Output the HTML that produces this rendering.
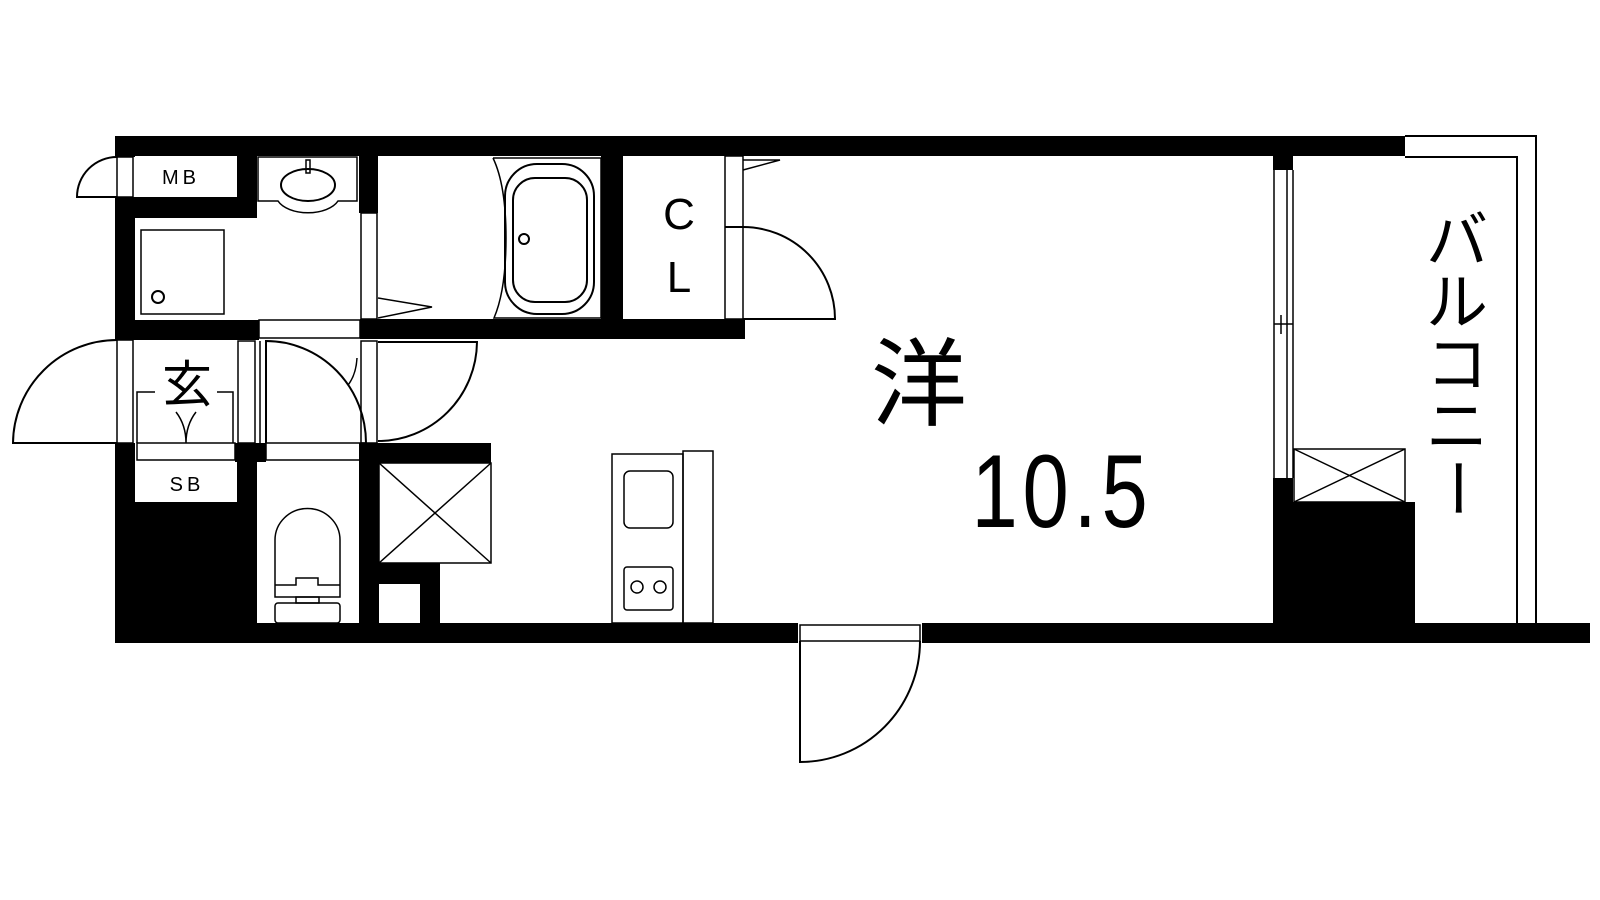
<!DOCTYPE html>
<html><head><meta charset="utf-8"><style>
html,body{margin:0;padding:0;background:#fff;}
svg{display:block;}
text{font-family:"Liberation Sans","Noto Sans CJK JP",sans-serif;}
</style></head><body>
<svg width="1600" height="900" viewBox="0 0 1600 900" xmlns="http://www.w3.org/2000/svg">
<g fill="#000" stroke="none">
<rect x="115" y="136" width="1290" height="20"/>
<rect x="115" y="136" width="20" height="21"/>
<rect x="115" y="197" width="20" height="143"/>
<rect x="115" y="443" width="20" height="200"/>
<rect x="115" y="623" width="683" height="20"/>
<rect x="922" y="623" width="668" height="20"/>
<rect x="115" y="197" width="142" height="21"/>
<rect x="237" y="156" width="20" height="62"/>
<rect x="359" y="156" width="19" height="57"/>
<rect x="115" y="320" width="144" height="20"/>
<rect x="360" y="319" width="385" height="20"/>
<rect x="601" y="156" width="22" height="183"/>
<rect x="1273" y="156" width="20" height="14"/>
<rect x="1273" y="478" width="20" height="50"/>
<rect x="1273" y="502" width="142" height="125"/>
<rect x="235" y="443" width="31" height="19"/>
<rect x="115" y="502" width="142" height="125"/>
<rect x="237" y="443" width="20" height="180"/>
<rect x="359" y="443" width="20" height="180"/>
<rect x="366" y="443" width="125" height="20"/>
<rect x="379" y="563" width="61" height="21"/>
<rect x="420" y="563" width="20" height="60"/>
</g>
<g fill="none" stroke="#000" stroke-width="2">
<rect x="117" y="157" width="16" height="40" stroke-width="1.5"/>
<path d="M117 197 L77 197 A40 40 0 0 1 117 157"/>
<path d="M258 157 L357 157 L357 201 L338 201 A32 18 0 0 1 278 201 L258 201 Z" stroke-width="1.5"/>
<ellipse cx="308" cy="185" rx="27" ry="16"/>
<rect x="306" y="160" width="4" height="13" stroke-width="1.5"/>
<rect x="141" y="230" width="83" height="84" stroke-width="1.5"/>
<circle cx="158" cy="297" r="6"/>
<rect x="361" y="213" width="16" height="106" stroke-width="1.5"/>
<path d="M378 298 L432 307 L378 318" stroke-width="1.5"/>
<path d="M493 158 L601 158 L601 318 L494 318 Q506 290 506 238 Q506 185 493 158" stroke-width="1.5"/>
<rect x="505" y="164" width="89" height="150" rx="32" stroke-width="2"/>
<rect x="513" y="178" width="74" height="124" rx="22" stroke-width="2"/>
<circle cx="524" cy="239" r="5"/>
<rect x="259" y="320" width="101" height="18" stroke-width="1.5"/>
<rect x="725" y="156" width="18" height="163" stroke-width="1.5"/>
<line x1="725" y1="227" x2="743" y2="227"/>
<path d="M743 160 L780 160 L743 170" stroke-width="1.5"/>
<path d="M743 227 A92 92 0 0 1 835 319 L743 319"/>
<rect x="117" y="340" width="16" height="103" stroke-width="1.5"/>
<path d="M117 443 L13 443 A104 104 0 0 1 117 340"/>
<rect x="137" y="443" width="98" height="17" stroke-width="1.5"/>
<path d="M137 443 L137 392 L155 392 M233 443 L233 392 L217 392" stroke-width="1.5"/>
<path d="M176 412 Q186 425 186 443 Q186 425 196 412" stroke-width="1.5"/>
<rect x="238" y="341" width="17" height="102" stroke-width="1.5"/>
<line x1="260" y1="341" x2="260" y2="443" stroke-width="1.5"/>
<path d="M266 443 L266 341 A100 102 0 0 1 366 443"/>
<rect x="266" y="443" width="100" height="17" stroke-width="1.5"/>
<rect x="361" y="341" width="16" height="102" stroke-width="1.5"/>
<path d="M378 342 L477 342 A99 100 0 0 1 378 441"/>
<path d="M357 358 Q356 375 348 385" stroke-width="1.5"/>
<path d="M275 597 L275 540 A32 31 0 0 1 340 540 L340 597 Z" stroke-width="1.5"/>
<path d="M275 585 L296 585 L296 578 L318 578 L318 585 L340 585" stroke-width="1.5"/>
<rect x="296" y="597" width="23" height="6" stroke-width="1.5"/>
<rect x="275" y="603" width="65" height="20" rx="3" stroke-width="1.5"/>
<rect x="379" y="463" width="112" height="100" stroke-width="1.5"/>
<path d="M379 463 L491 563 M491 463 L379 563" stroke-width="1.5"/>
<rect x="612" y="454" width="71" height="169" stroke-width="1.5"/>
<rect x="683" y="451" width="30" height="172" stroke-width="1.5"/>
<rect x="624" y="471" width="49" height="57" rx="6" stroke-width="1.5"/>
<rect x="624" y="567" width="49" height="43" rx="3" stroke-width="1.5"/>
<circle cx="637" cy="587" r="6" stroke-width="1.5"/>
<circle cx="660" cy="587" r="6" stroke-width="1.5"/>
<rect x="800" y="625" width="120" height="16" stroke-width="1.5"/>
<path d="M800 641 L800 762 A120 121 0 0 0 920 641"/>
<line x1="1274" y1="170" x2="1274" y2="478" stroke-width="1.5"/>
<line x1="1287" y1="170" x2="1287" y2="478" stroke-width="1.5"/>
<line x1="1293" y1="170" x2="1293" y2="478" stroke-width="1.5"/>
<line x1="1274" y1="324" x2="1293" y2="324" stroke-width="1.5"/>
<line x1="1281" y1="315" x2="1281" y2="334" stroke-width="1.5"/>
<rect x="1294" y="449" width="111" height="53" stroke-width="1.5"/>
<path d="M1294 449 L1405 502 M1405 449 L1294 502" stroke-width="1.5"/>
<path d="M1405 136 L1536 136 L1536 623" stroke-width="2"/>
<path d="M1405 157 L1517 157 L1517 623" stroke-width="2"/>
</g>
<g fill="#000">
<text x="181" y="184" font-size="20" text-anchor="middle" letter-spacing="4">MB</text>
<text x="187" y="491" font-size="20" text-anchor="middle" letter-spacing="4">SB</text>
<text x="187" y="402" font-size="50" text-anchor="middle">玄</text>
<text x="679" y="229" font-size="44" text-anchor="middle">C</text>
<text x="679" y="292" font-size="44" text-anchor="middle">L</text>
<text x="919" y="418" font-size="96" text-anchor="middle">洋</text>
<text x="0" y="527" font-size="104" text-anchor="middle" letter-spacing="6" transform="translate(1062 0) scale(0.8 1)">10.5</text>
<text x="1457" y="262" font-size="62" text-anchor="middle">バ</text>
<text x="1457" y="324" font-size="62" text-anchor="middle">ル</text>
<text x="1457" y="386" font-size="62" text-anchor="middle">コ</text>
<text x="1457" y="448" font-size="62" text-anchor="middle">ニ</text>
<text x="1457" y="510" font-size="62" text-anchor="middle" transform="rotate(90 1457 488)">ー</text>
</g>
</svg>
</body></html>
